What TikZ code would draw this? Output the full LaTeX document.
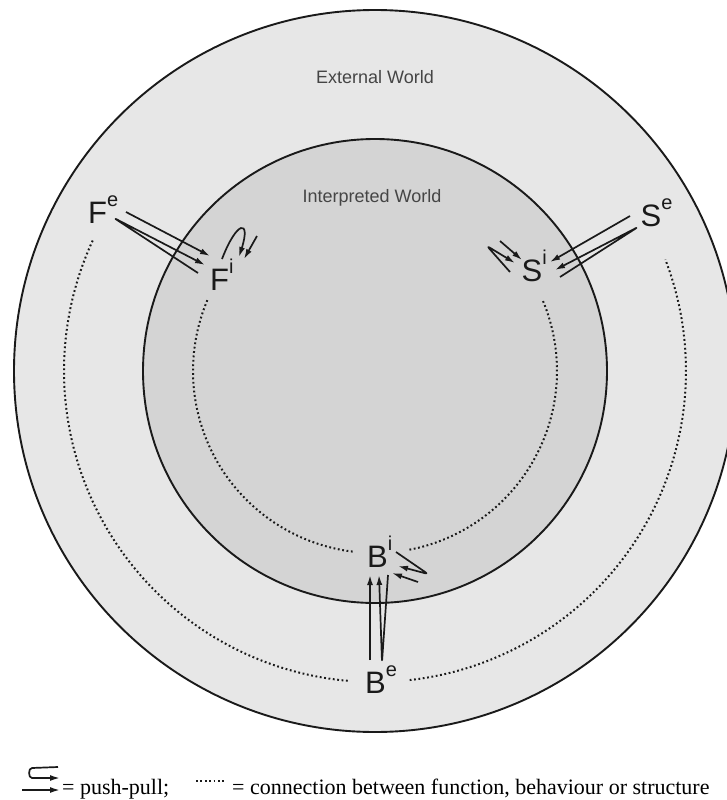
\documentclass[tikz,border=0pt]{standalone}
\usepackage{fontspec}
\setmainfont{Liberation Serif}
\newfontfamily\lsans{Liberation Sans}
\usetikzlibrary{arrows.meta}
\definecolor{outerfill}{HTML}{E7E7E7}
\definecolor{innerfill}{HTML}{D4D4D4}
\definecolor{linecol}{HTML}{1A1A1A}
\definecolor{worldtext}{HTML}{454545}
\newcommand{\wl}[2]{#1\raisebox{17pt}{\fontsize{20}{20}\selectfont #2}}
\begin{document}
\begin{tikzpicture}[x=1pt,y=-1pt,
  ring/.style={draw=linecol, line width=1.9pt},
  conn/.style={draw=linecol, line width=2pt, dash pattern=on 1.8pt off 2.6pt},
  pp/.style={draw=linecol, line width=1.7pt, -{Latex[length=10pt,width=6pt]}},
  ppl/.style={pp, rounded corners=3pt, line join=round},
  lab/.style={font=\lsans\fontsize{31}{31}\selectfont, inner sep=0pt, anchor=base west, text=linecol},
  world/.style={font=\lsans\fontsize{18}{18}\selectfont, inner sep=0pt, text=worldtext},
  legend/.style={font=\fontsize{22}{22}\selectfont, inner sep=0pt, anchor=base west}]
\clip (0,0) rectangle (727,800);
\fill[white] (0,0) rectangle (727,800);
\coordinate (C) at (375,371);
% circles
\filldraw[ring, fill=outerfill] (C) circle[radius=361];
\filldraw[ring, fill=innerfill] (C) circle[radius=232];
% dotted connections
\draw[conn] (C) ++(204.8:311) arc[start angle=204.8, end angle=94.6, radius=311];
\draw[conn] (C) ++(83.6:311) arc[start angle=83.6, end angle=-21, radius=311];
\draw[conn] (C) ++(202.9:182) arc[start angle=202.9, end angle=96.3, radius=182];
\draw[conn] (C) ++(79.1:182) arc[start angle=79.1, end angle=-23.3, radius=182];
% world labels
\node[world] (ext) at (375,77) {External World};
\node[world] (int) at (372,198) {Interpreted World};
% FBS labels
\node[lab] (Fe) at (88,223) {\wl{F}{e}};
\node[lab] (Fi) at (210,290) {\wl{F}{i}};
\node[lab] (Se) at (640.5,226) {\wl{S}{e}};
\node[lab] (Si) at (521.5,281) {\wl{S}{i}};
\node[lab] (Bi) at (367,567) {\wl{B}{i}};
\node[lab] (Be) at (365,693) {\wl{B}{e}};
% function arrows
\coordinate (fa1) at (126,212); \coordinate (fa2) at (210,256);
\draw[pp] (fa1) -- (fa2);
\coordinate (fl1) at (198,273); \coordinate (flt) at (114,218); \coordinate (fl2) at (205,265);
\draw[ppl] (fl1) -- (flt) -- (fl2);
\coordinate (fs1) at (222,259); \coordinate (fs2) at (239,257);
\draw[pp] (fs1) .. controls (237,220) and (251,219) .. (fs2);
\coordinate (fb1) at (257,236); \coordinate (fb2) at (244,259);
\draw[pp] (fb1) -- (fb2);
% structure arrows
\coordinate (sa1) at (630,216); \coordinate (sa2) at (550,262);
\draw[pp] (sa1) -- (sa2);
\coordinate (sl1) at (560,277); \coordinate (slt) at (638,227); \coordinate (sl2) at (555,270);
\draw[ppl] (sl1) -- (slt) -- (sl2);
\coordinate (ss1) at (510,272); \coordinate (sst) at (487,246); \coordinate (ss2) at (515,263);
\draw[ppl] (ss1) -- (sst) -- (ss2);
\coordinate (sb1) at (500,241); \coordinate (sb2) at (522,260);
\draw[pp] (sb1) -- (sb2);
% behaviour arrows
\coordinate (ba1) at (370,660); \coordinate (ba2) at (370,575);
\draw[pp] (ba1) -- (ba2);
\coordinate (bl1) at (388,575); \coordinate (blt) at (382,662); \coordinate (bl2) at (379,575);
\draw[ppl] (bl1) -- (blt) -- (bl2);
\coordinate (bs1) at (396,552); \coordinate (bst) at (428,574); \coordinate (bs2) at (398,566);
\draw[ppl] (bs1) -- (bst) -- (bs2);
\coordinate (bb1) at (418,582); \coordinate (bb2) at (392,573);
\draw[pp] (bb1) -- (bb2);
% legend
\coordinate (lg1) at (58,767); \coordinate (lg2) at (60,778);
\draw[pp] (lg1) -- (32,768) to[out=180,in=180] (32,778) -- (lg2);
\coordinate (lh1) at (22,790); \coordinate (lh2) at (60,790);
\draw[pp] (lh1) -- (lh2);
\node[legend] (lt1) at (62,794) {= push-pull;};
\coordinate (ld1) at (196,781); \coordinate (ld2) at (226,781);
\draw[conn] (ld1) -- (ld2);
\node[legend] (lt2) at (232,794) {= connection between function, behaviour or structure};
\end{tikzpicture}
\end{document}
